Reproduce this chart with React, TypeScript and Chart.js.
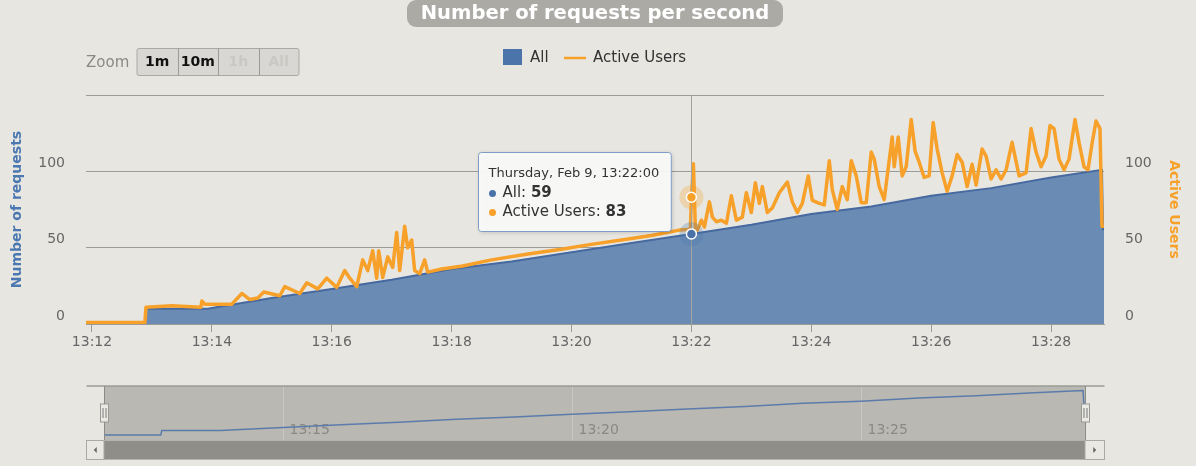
import { useEffect, useRef } from 'react';
import { Chart, registerables } from 'chart.js';

Chart.register(...registerables);

// ---------- data (x = seconds after 13:00) ----------
const BASE_HOUR = 13;
const X_MIN = 714;
const X_MAX = 1733;

const allSeconds = [714, 773, 774, 836, 840, 900, 960, 1020, 1080, 1140, 1200, 1260, 1320, 1380, 1440, 1500, 1560, 1620, 1680, 1731, 1732, 1733];
const allValues = [0, 0, 10, 10, 10.5, 17, 23, 29, 36, 41, 47, 53, 59, 65, 72, 77, 84, 89, 96, 101, 62, 62];

const userSeconds = [
  714, 773, 774, 800, 829, 830, 833, 860, 870, 878, 886, 892, 908, 913, 928, 935, 946, 955, 965, 973,
  978, 985, 991, 996, 1001, 1005, 1007, 1011, 1016, 1021, 1025, 1028, 1033, 1036, 1040, 1043, 1048, 1053, 1056, 1070,
  1091, 1120, 1158, 1190, 1218, 1250, 1280, 1308, 1319, 1320, 1322, 1324, 1326, 1330, 1333, 1338, 1341, 1345, 1350, 1355,
  1360, 1365, 1371, 1375, 1380, 1384, 1388, 1391, 1396, 1401, 1408, 1416, 1421, 1426, 1431, 1437, 1441, 1448, 1453, 1458,
  1461, 1466, 1471, 1476, 1480, 1485, 1490, 1495, 1500, 1503, 1508, 1513, 1516, 1521, 1523, 1527, 1531, 1535, 1540, 1544,
  1548, 1553, 1558, 1562, 1566, 1571, 1576, 1581, 1586, 1591, 1596, 1601, 1605, 1611, 1615, 1620, 1625, 1630, 1635, 1641,
  1648, 1655, 1660, 1665, 1670, 1675, 1679, 1683, 1688, 1693, 1698, 1704, 1708, 1713, 1717, 1721, 1725, 1729, 1731, 1732,
];
const userValues = [
  1, 1, 11, 12, 11, 15, 13, 13, 20, 16, 17, 21, 18.5, 24.5, 20, 27, 23, 30, 24, 35,
  30, 24.5, 42, 35, 48, 30, 48, 30.5, 44, 37, 60, 35, 64, 50, 55, 35, 33, 42, 34, 36,
  38, 42, 46, 49, 52, 55, 58, 61.5, 62, 83, 105, 62, 61.5, 68, 63.5, 80, 70, 67, 68, 66,
  84, 68, 70, 86, 73, 92.5, 79, 90, 73, 76, 86, 93, 80, 73, 79, 97, 81, 79, 78, 107,
  88, 75, 90, 81.5, 107, 97, 79.5, 79.5, 112.6, 108, 90, 81.5, 97, 122.5, 103, 122.5, 97, 103, 134, 113,
  106, 96, 97, 132, 114.6, 99, 87, 97, 111, 106, 90, 104.6, 91, 114.6, 110, 95, 101, 95, 101, 119,
  97, 99, 128, 112.6, 103, 110, 130, 128, 108, 101, 108, 134, 119, 103, 101, 118, 133, 128, 64, 64,
];

const navigatorTickSeconds = [900, 1200, 1500];
const zoomButtons = ['1m', '10m', '1h', 'All'];
const zoomEnabled = [true, true, false, false];
const hoverSecond = 1320;
const hoverDateLabel = 'Thursday, Feb 9';
const CHART_TITLE = 'Number of requests per second';
const LEFT_TITLE = 'Number of requests';
const RIGHT_TITLE = 'Active Users';
const SERIES_ALL = 'All';
const SERIES_USERS = 'Active Users';

// ---------- styles ----------
const FONT = '"DejaVu Sans", "Lucida Grande", Verdana, sans-serif';
const BG = '#e7e6e1';
const BLUE = '#46699f';
const BLUE_FILL = 'rgb(106,140,180)';
const ORANGE = '#f7a12a';
const GRID = '#9b9b97';
const LABEL = '#666666';

const pad2 = (n: number) => String(n).padStart(2, '0');
const fmtTime = (s: number, withSec = false) => {
  const h = BASE_HOUR + Math.floor(s / 3600);
  const m = Math.floor((s % 3600) / 60);
  const sec = Math.round(s % 60);
  return withSec ? `${h}:${pad2(m)}:${pad2(sec)}` : `${h}:${pad2(m)}`;
};

const toPoints = (xs: number[], ys: number[]) => xs.map((x, i) => ({ x, y: ys[i] }));

function circle(ctx: CanvasRenderingContext2D, x: number, y: number, r: number, fill: string, stroke?: string, lw = 1) {
  ctx.beginPath();
  ctx.arc(x, y, r, 0, Math.PI * 2);
  ctx.fillStyle = fill;
  ctx.fill();
  if (stroke) {
    ctx.lineWidth = lw;
    ctx.strokeStyle = stroke;
    ctx.stroke();
  }
}

const decorPlugin = {
  id: 'decor',
  afterDraw(chart: any) {
    const ctx: CanvasRenderingContext2D = chart.ctx;
    const { chartArea, scales } = chart;
    const x = scales.x, y = scales.y, y1 = scales.y1;
    ctx.save();

    // Title pill
    ctx.font = `bold 20px ${FONT}`;
    const w20 = ctx.measureText(CHART_TITLE).width;
    const tSize = 20 * 349 / w20;
    ctx.fillStyle = '#abaaa5';
    ctx.beginPath();
    ctx.roundRect(407, 0, 376, 27, 9);
    ctx.fill();
    ctx.font = `bold ${tSize}px ${FONT}`;
    ctx.fillStyle = '#ffffff';
    ctx.textAlign = 'center';
    ctx.textBaseline = 'middle';
    ctx.fillText(CHART_TITLE, 595, 14);

    // Zoom label and buttons
    ctx.font = `15px ${FONT}`;
    ctx.fillStyle = '#8b8a85';
    ctx.textAlign = 'left';
    ctx.fillText('Zoom', 86, 63);
    const bx0 = 137, bw = 40.5, by = 48.5, bh = 27;
    ctx.fillStyle = '#d8d7d3';
    ctx.beginPath();
    ctx.roundRect(bx0, by, bw * zoomButtons.length, bh, 2);
    ctx.fill();
    ctx.strokeStyle = '#a9a9a5';
    ctx.lineWidth = 1;
    ctx.stroke();
    zoomButtons.forEach((label, i) => {
      const left = bx0 + i * bw;
      if (i > 0) {
        ctx.strokeStyle = '#9a9a96';
        ctx.beginPath();
        ctx.moveTo(Math.round(left) + 0.5, by);
        ctx.lineTo(Math.round(left) + 0.5, by + bh);
        ctx.stroke();
      }
      ctx.font = `bold 14px ${FONT}`;
      ctx.fillStyle = zoomEnabled[i] ? '#111111' : '#c9c8c4';
      ctx.textAlign = 'center';
      ctx.fillText(label, left + bw / 2, 62);
    });

    // Legend
    ctx.fillStyle = '#4a74aa';
    ctx.fillRect(503, 49, 19, 16);
    ctx.font = `15px ${FONT}`;
    ctx.fillStyle = '#333333';
    ctx.textAlign = 'left';
    ctx.fillText(SERIES_ALL, 530, 58);
    ctx.strokeStyle = ORANGE;
    ctx.lineWidth = 2.5;
    ctx.beginPath();
    ctx.moveTo(564, 58);
    ctx.lineTo(586, 58);
    ctx.stroke();
    ctx.fillText(SERIES_USERS, 593, 58);

    // Crosshair + hover markers
    const hx = x.getPixelForValue(hoverSecond);
    const ia = allSeconds.indexOf(hoverSecond);
    const iu = userSeconds.indexOf(hoverSecond);
    const ay = y.getPixelForValue(allValues[ia]);
    const uy = y1.getPixelForValue(userValues[iu]);
    ctx.strokeStyle = '#a3a3a0';
    ctx.lineWidth = 1;
    ctx.beginPath();
    ctx.moveTo(Math.round(hx) + 0.5, chartArea.top);
    ctx.lineTo(Math.round(hx) + 0.5, chartArea.bottom);
    ctx.stroke();
    circle(ctx, hx, ay, 12, 'rgba(69,114,167,0.25)');
    circle(ctx, hx, uy, 12, 'rgba(247,161,42,0.28)');
    circle(ctx, hx, ay, 5, '#4a72a8', '#ffffff', 1.5);
    circle(ctx, hx, uy, 5, ORANGE, '#ffffff', 1.5);

    // Tooltip
    const titleText = `${hoverDateLabel}, ${fmtTime(hoverSecond, true)}`;
    ctx.font = `13px ${FONT}`;
    const tw = ctx.measureText(titleText).width;
    const rows = [
      { color: '#4a72a8', name: SERIES_ALL, value: allValues[ia] },
      { color: ORANGE, name: SERIES_USERS, value: userValues[iu] },
    ];
    let rw = 0;
    rows.forEach((r) => {
      ctx.font = `15px ${FONT}`;
      const a = ctx.measureText(`${r.name}: `).width;
      ctx.font = `bold 15px ${FONT}`;
      const b = ctx.measureText(String(r.value)).width;
      rw = Math.max(rw, a + b + 14);
    });
    const boxW = Math.max(tw, rw) + 22;
    const boxH = 79;
    const left = Math.round(hx - 21 - boxW) + 0.5;
    const top = Math.round(uy - 45) + 0.5;
    ctx.save();
    ctx.shadowColor = 'rgba(0,0,0,0.18)';
    ctx.shadowBlur = 4;
    ctx.shadowOffsetX = 1;
    ctx.shadowOffsetY = 1;
    ctx.fillStyle = 'rgba(250,250,249,0.95)';
    ctx.beginPath();
    ctx.roundRect(left, top, boxW, boxH, 3);
    ctx.fill();
    ctx.restore();
    ctx.strokeStyle = '#7f9cc6';
    ctx.lineWidth = 1;
    ctx.beginPath();
    ctx.roundRect(left, top, boxW, boxH, 3);
    ctx.stroke();
    ctx.font = `13px ${FONT}`;
    ctx.fillStyle = '#333333';
    ctx.textAlign = 'left';
    ctx.textBaseline = 'middle';
    ctx.fillText(titleText, left + 10, top + 21);
    rows.forEach((r, i) => {
      const ry = top + 41 + i * 19;
      circle(ctx, left + 14, ry, 3.5, r.color);
      ctx.font = `15px ${FONT}`;
      ctx.fillStyle = '#333333';
      const label = `${r.name}: `;
      ctx.fillText(label, left + 24, ry);
      const lw = ctx.measureText(label).width;
      ctx.font = `bold 15px ${FONT}`;
      ctx.fillText(String(r.value), left + 24 + lw, ry);
    });

    ctx.restore();
  },
};

const navPlugin = {
  id: 'navDecor',
  beforeDatasetsDraw(chart: any) {
    const ctx: CanvasRenderingContext2D = chart.ctx;
    const { chartArea, scales } = chart;
    ctx.save();
    ctx.fillStyle = '#b9b8b2';
    ctx.fillRect(chartArea.left, chartArea.top, chartArea.right - chartArea.left, chartArea.bottom - chartArea.top);
    navigatorTickSeconds.forEach((s) => {
      const px = Math.round(scales.x.getPixelForValue(s)) + 0.5;
      ctx.strokeStyle = '#c8c7c2';
      ctx.lineWidth = 1;
      ctx.beginPath();
      ctx.moveTo(px, chartArea.top);
      ctx.lineTo(px, chartArea.bottom);
      ctx.stroke();
      ctx.font = `14px ${FONT}`;
      ctx.fillStyle = '#8a8984';
      ctx.textAlign = 'left';
      ctx.textBaseline = 'middle';
      ctx.fillText(fmtTime(s), px + 6, 58);
    });
    ctx.restore();
  },
  afterDraw(chart: any) {
    const ctx: CanvasRenderingContext2D = chart.ctx;
    const { chartArea } = chart;
    const L = chartArea.left, R = chartArea.right, T = chartArea.top, B = chartArea.bottom;
    const outL = 86.5, outR = 1104.5;
    ctx.save();
    // outline top
    ctx.strokeStyle = '#9d9c97';
    ctx.lineWidth = 1.5;
    ctx.beginPath();
    ctx.moveTo(outL, T);
    ctx.lineTo(outR, T);
    ctx.stroke();
    // edges of selected range
    ctx.lineWidth = 1;
    ctx.strokeStyle = '#8c8b86';
    [L, R].forEach((ex) => {
      ctx.beginPath();
      ctx.moveTo(Math.round(ex) + 0.5, T);
      ctx.lineTo(Math.round(ex) + 0.5, B);
      ctx.stroke();
    });
    // scrollbar
    const sT = B, sH = 19;
    ctx.fillStyle = '#8f8e89';
    ctx.fillRect(L, sT, R - L, sH);
    ctx.strokeStyle = '#b5b4af';
    ctx.strokeRect(outL, sT + 0.5, outR - outL, sH);
    [[outL, L], [R, outR]].forEach(([a, b], i) => {
      ctx.fillStyle = '#e9e8e3';
      ctx.fillRect(a, sT + 0.5, b - a, sH);
      ctx.strokeStyle = '#aaa9a4';
      ctx.strokeRect(a, sT + 0.5, b - a, sH);
      const cx = (a + b) / 2, cy = sT + sH / 2 + 0.5;
      ctx.fillStyle = '#666';
      ctx.beginPath();
      if (i === 0) {
        ctx.moveTo(cx + 1.5, cy - 3);
        ctx.lineTo(cx - 1.5, cy);
        ctx.lineTo(cx + 1.5, cy + 3);
      } else {
        ctx.moveTo(cx - 1.5, cy - 3);
        ctx.lineTo(cx + 1.5, cy);
        ctx.lineTo(cx - 1.5, cy + 3);
      }
      ctx.fill();
    });
    // handles
    const hy = 41;
    [L, R].forEach((ex) => {
      const hx = Math.round(ex) + 0.5;
      ctx.fillStyle = '#ebebe6';
      ctx.strokeStyle = '#999893';
      ctx.fillRect(hx - 4, hy - 9, 8, 18);
      ctx.strokeRect(hx - 4, hy - 9, 8, 18);
      ctx.strokeStyle = '#777';
      ctx.beginPath();
      ctx.moveTo(hx - 1.5, hy - 5);
      ctx.lineTo(hx - 1.5, hy + 5);
      ctx.moveTo(hx + 1.5, hy - 5);
      ctx.lineTo(hx + 1.5, hy + 5);
      ctx.stroke();
    });
    ctx.restore();
  },
};

export default function App() {
  const mainRef = useRef<HTMLCanvasElement>(null);
  const navRef = useRef<HTMLCanvasElement>(null);

  useEffect(() => {
    if (!mainRef.current || !navRef.current) return;
    const tickFont = { family: FONT, size: 14 };
    const main = new Chart(mainRef.current, {
      type: 'line',
      data: {
        datasets: [
          {
            label: SERIES_USERS,
            data: toPoints(userSeconds, userValues),
            yAxisID: 'y1',
            borderColor: ORANGE,
            borderWidth: 3.5,
            borderJoinStyle: 'round',
            borderCapStyle: 'round',
            pointRadius: 0,
            fill: false,
            tension: 0,
            order: 0,
          },
          {
            label: SERIES_ALL,
            data: toPoints(allSeconds, allValues),
            yAxisID: 'y',
            borderColor: BLUE,
            borderWidth: 2,
            backgroundColor: BLUE_FILL,
            fill: 'origin',
            pointRadius: 0,
            tension: 0,
            order: 1,
          },
        ],
      } as any,
      options: {
        responsive: false,
        animation: false,
        events: [],
        layout: { padding: { top: 95, bottom: 18, left: 0, right: 0 } },
        plugins: { legend: { display: false }, tooltip: { enabled: false }, title: { display: false } },
        scales: {
          x: {
            type: 'linear',
            min: X_MIN,
            max: X_MAX,
            afterFit: (s: any) => { s.height = 30; },
            grid: { drawOnChartArea: false, drawTicks: true, tickLength: 8, tickColor: GRID },
            border: { display: true, color: GRID },
            ticks: {
              stepSize: 120,
              includeBounds: false,
              autoSkip: false,
              maxRotation: 0,
              padding: 2,
              color: LABEL,
              font: tickFont,
              callback: (v: any) => fmtTime(Number(v)),
            },
          },
          y: {
            position: 'left',
            min: 0,
            max: 150,
            afterFit: (s: any) => { s.width = 86; },
            grid: { color: GRID, drawTicks: false },
            border: { display: false },
            ticks: {
              stepSize: 50,
              padding: 21,
              labelOffset: -8,
              color: LABEL,
              font: tickFont,
              callback: (v: any) => (Number(v) === 150 ? '' : String(v)),
            },
            title: {
              display: true,
              text: LEFT_TITLE,
              color: '#4b78b0',
              font: { family: FONT, size: 14, weight: 'bold' },
              padding: { top: 9, bottom: 0 },
            },
          },
          y1: {
            position: 'right',
            min: 0,
            max: 150,
            afterFit: (s: any) => { s.width = 92; },
            grid: { display: false, drawTicks: false },
            border: { display: false },
            ticks: {
              stepSize: 50,
              padding: 21,
              labelOffset: -8,
              color: LABEL,
              font: tickFont,
              callback: (v: any) => (Number(v) === 150 ? '' : String(v)),
            },
            title: {
              display: true,
              text: RIGHT_TITLE,
              color: ORANGE,
              font: { family: FONT, size: 14, weight: 'bold' },
              padding: { top: 14, bottom: 0 },
            },
          },
        },
      } as any,
      plugins: [decorPlugin],
    });

    const nav = new Chart(navRef.current, {
      type: 'line',
      data: {
        datasets: [
          {
            data: toPoints(allSeconds, allValues),
            borderColor: '#5b7cab',
            borderWidth: 1.5,
            pointRadius: 0,
            fill: false,
            tension: 0,
          },
        ],
      } as any,
      options: {
        responsive: false,
        animation: false,
        events: [],
        layout: { padding: { left: 104, right: 111, top: 14, bottom: 26 } },
        plugins: { legend: { display: false }, tooltip: { enabled: false } },
        scales: {
          x: { type: 'linear', display: false, min: X_MIN, max: X_MAX },
          y: { display: false, min: -11.4, max: 111.4 },
        },
      } as any,
      plugins: [navPlugin],
    });

    return () => {
      main.destroy();
      nav.destroy();
    };
  }, []);

  return (
    <div style={{ position: 'absolute', left: 0, top: 0, width: 1196, height: 466, background: BG, overflow: 'hidden' }}>
      <canvas ref={mainRef} width={1196} height={372} style={{ position: 'absolute', left: 0, top: 0, width: 1196, height: 372 }} />
      <canvas ref={navRef} width={1196} height={94} style={{ position: 'absolute', left: 0, top: 372, width: 1196, height: 94 }} />
    </div>
  );
}
